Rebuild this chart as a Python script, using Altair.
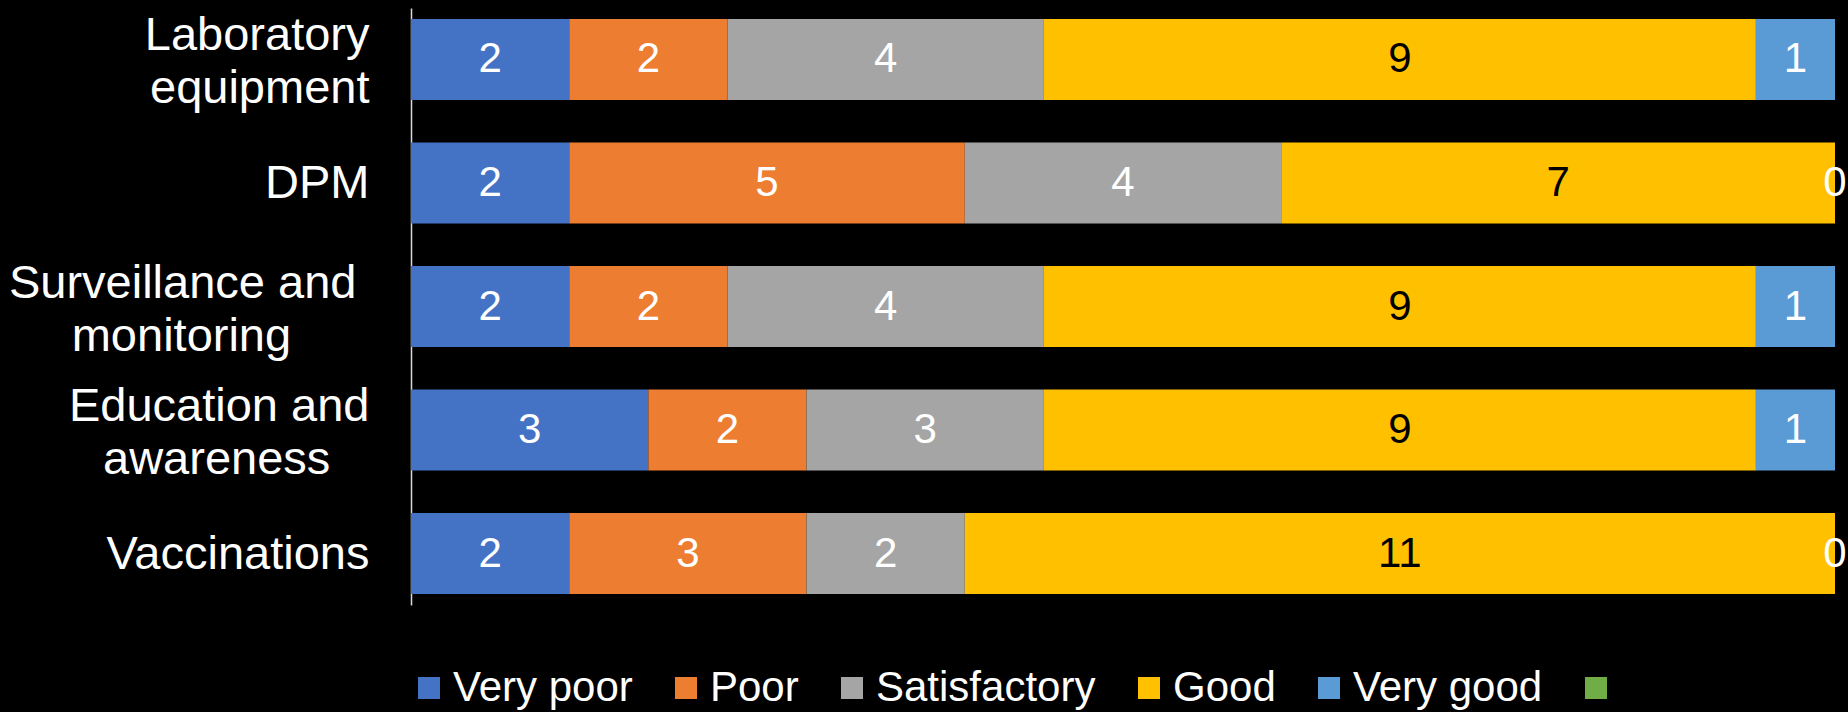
import altair as alt
import pandas as pd

categories = [
    "Laboratory equipment",
    "DPM",
    "Surveillance and monitoring",
    "Education and awareness",
    "Vaccinations",
]
NB = "\u00a0"
ZW = "\u200b"
label_lines = {
    "Laboratory equipment": ["Laboratory", "equipment"],
    "DPM": ["DPM"],
    "Surveillance and monitoring": ["Surveillance and" + NB + ZW, "monitoring" + NB * 6 + ZW],
    "Education and awareness": ["Education and", "awareness" + NB * 3 + ZW],
    "Vaccinations": ["Vaccinations"],
}
ratings = ["Very poor", "Poor", "Satisfactory", "Good", "Very good"]
unnamed_series = " "
very_poor = [2, 2, 2, 3, 2]
poor = [2, 5, 2, 2, 3]
satisfactory = [4, 4, 4, 3, 2]
good = [9, 7, 9, 9, 11]
very_good = [1, 0, 1, 1, 0]
colors = ["#4472C4", "#ED7D31", "#A5A5A5", "#FFC000", "#5B9BD5", "#70AD47"]

series = [very_poor, poor, satisfactory, good, very_good]
rows = []
for ri, (name, vals) in enumerate(zip(ratings, series)):
    for c, v in zip(categories, vals):
        rows.append({"category": c, "rating": name, "order": ri, "value": v})
df = pd.DataFrame(rows)

FONT = "Liberation Sans"

expr = "datum.value"
for c in reversed(categories):
    lines = ", ".join("'" + l + "'" for l in label_lines[c])
    expr = f"datum.value == '{c}' ? [{lines}] : ({expr})"

multi = [c for c in categories if len(label_lines[c]) > 1]
multi_test = "indexof([" + ", ".join("'" + c + "'" for c in multi) + "], datum.value) >= 0"

xscale = alt.Scale(domain=[0, 18], nice=False, zero=True)
yscale = alt.Scale(paddingInner=0.345, paddingOuter=0.089)

bars = alt.Chart(df).mark_bar().encode(
    y=alt.Y(
        "category:N",
        sort=categories,
        scale=yscale,
        axis=alt.Axis(
            title=None,
            labelExpr=expr,
            labelFont=FONT,
            labelFontSize=47,
            labelColor="white",
            labelPadding=42,
            labelOffset=1,
            labelLimit=600,
            labelLineHeight=53,
            labelBaseline={"condition": {"test": multi_test, "value": "bottom"}, "value": "middle"},
            ticks=False,
            domainColor="#D9D9D9",
            domainWidth=1.5,
            grid=False,
        ),
    ),
    x=alt.X("value:Q", stack="zero", scale=xscale, axis=None),
    color=alt.Color(
        "rating:N",
        scale=alt.Scale(domain=ratings + [unnamed_series], range=colors),
        legend=alt.Legend(
            title=None,
            orient="none",
            legendX=-3,
            legendY=659,
            direction="horizontal",
            columns=6,
            symbolType="square",
            symbolSize=484,
            symbolStrokeWidth=0,
            labelFont=FONT,
            labelFontSize=42,
            labelColor="white",
            labelLimit=400,
            labelOffset=3,
            columnPadding=32,
            padding=0,
        ),
    ),
    order=alt.Order("order:Q"),
)

text = (
    alt.Chart(df)
    .transform_stack(
        stack="value",
        groupby=["category"],
        as_=["x0", "x1"],
        sort=[alt.SortField("order", order="ascending")],
    )
    .transform_calculate(mid="(datum.x0 + datum.x1) / 2")
    .mark_text(font=FONT, fontSize=42, baseline="middle", align="center")
    .encode(
        y=alt.Y("category:N", sort=categories, scale=yscale),
        x=alt.X("mid:Q", scale=xscale, axis=None),
        text=alt.Text("value:Q"),
        color=alt.condition(
            "datum.rating == 'Good'", alt.value("black"), alt.value("white")
        ),
    )
)

chart = (
    alt.layer(bars, text)
    .properties(
        width=1424,
        height=597,
        autosize=alt.AutoSizeParams(type="none"),
        padding={"left": 403, "top": 0, "right": 13, "bottom": 107},
        background="black",
    )
    .configure_view(stroke=None)
)

chart.save(
    "out.html",
    embed_options={
        "renderer": "svg",
        "actions": False,
        "defaultStyle": "html { overflow: hidden; } html, body { background: #000; } "
        "body { margin-right: 0; } "
        ".vega-embed { position: relative; display: inline-block; box-sizing: border-box; } "
        "#vis, #vis.vega-embed { overflow: visible !important; } "
        "#vis.vega-embed svg { flex-shrink: 0; overflow: visible; }",
    },
)
